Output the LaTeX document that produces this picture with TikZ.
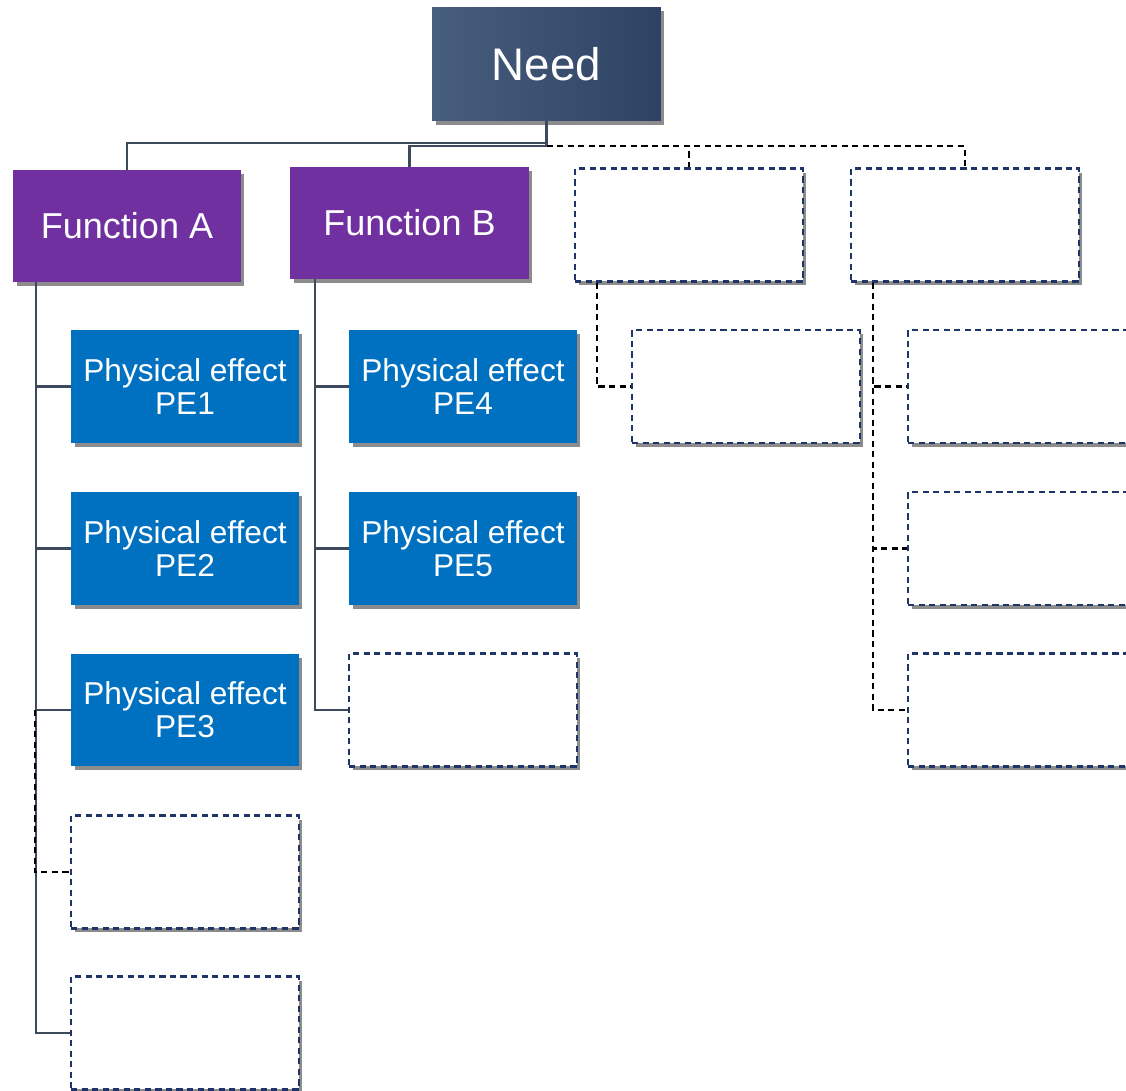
\documentclass[tikz,border=0pt]{standalone}
\usepackage{fontspec}
\setmainfont{Liberation Sans}
\usetikzlibrary{positioning, shadows}

\definecolor{needdark}{HTML}{2F4263}
\definecolor{needlight}{HTML}{485E7E}
\definecolor{funcpurple}{HTML}{7030A0}
\definecolor{effectblue}{HTML}{0070C0}
\definecolor{linegray}{HTML}{3D4A5C}
\definecolor{boxnavy}{HTML}{1F3468}

\begin{document}
\begin{tikzpicture}[
    x=0.02cm, y=-0.02cm,
    % Styles
    shade/.style={drop shadow={shadow xshift=0.07cm, shadow yshift=-0.08cm, fill=black, opacity=0.45}},
    needbox/.style={shade, left color=needlight, right color=needdark, draw=none, text=white, minimum width=4.58cm, minimum height=2.28cm, font=\fontsize{26}{28}\selectfont},
    funcbox/.style={shade, fill=funcpurple, text=white, minimum width=4.56cm, minimum height=2.24cm, font=\fontsize{20.5}{23}\selectfont},
    effectbox/.style={shade, fill=effectblue, text=white, minimum width=4.56cm, minimum height=2.26cm, align=center, font=\fontsize{18}{19}\selectfont},
    emptybox/.style={shade, fill=white, draw=boxnavy, dash pattern=on 3.5pt off 2.5pt, line width=1.2pt, minimum width=4.56cm, minimum height=2.26cm},
    conn/.style={draw=linegray, line width=1.2pt},
    dconn/.style={draw=black, dash pattern=on 3.5pt off 2.5pt, line width=1.2pt},
]
\useasboundingbox (0,0) rectangle (1126,1091);
\clip (0,0) rectangle (1126,1091);

% Top level
\node[needbox] (need) at (546.5, 64) {Need};

% Functions
\node[funcbox] (funA) at (127, 226) {Function A};
\node[funcbox, minimum width=4.78cm] (funB) at (409.5, 223) {Function B};
\node[emptybox] (funC) at (689, 225) {};
\node[emptybox] (funD) at (965, 225) {};

% Physical effects of function A
\node[effectbox] (pe1) at (185, 386.5) {Physical effect\\PE1};
\node[effectbox] (pe2) at (185, 548.5) {Physical effect\\PE2};
\node[effectbox] (pe3) at (185, 710) {Physical effect\\PE3};
\node[emptybox] (a4) at (185, 872) {};
\node[emptybox] (a5) at (185, 1033) {};

% Physical effects of function B
\node[effectbox] (pe4) at (463, 386.5) {Physical effect\\PE4};
\node[effectbox] (pe5) at (463, 548.5) {Physical effect\\PE5};
\node[emptybox] (b3) at (463, 710) {};

% Open slots
\node[emptybox] (c1) at (746, 386.5) {};
\node[emptybox] (d1) at (1022, 386.5) {};
\node[emptybox] (d2) at (1022, 548.5) {};
\node[emptybox] (d3) at (1022, 710) {};

% Need to functions
\draw[conn] (need.south) -- ++(0,-0.44cm) -| (funA.north);
\draw[conn] (need.south) -- ++(0,-0.5cm) -| (funB.north);
\draw[dconn] ([yshift=-0.5cm]need.south) -| (funC.north);
\draw[dconn] ([yshift=-0.5cm]need.south) -| (funD.north);

% Function A tree
\foreach \e in {pe1, pe2, pe3, a5}
    \draw[conn] ([xshift=0.46cm]funA.south west) |- (\e.west);
\draw[dconn] ([xshift=0.44cm]funA.south west |- pe3.west) |- (a4.west);

% Function B tree
\foreach \e in {pe4, pe5, b3}
    \draw[conn] ([xshift=0.5cm]funB.south west) |- (\e.west);

% Open trees
\draw[dconn] ([xshift=0.46cm]funC.south west) |- (c1.west);
\foreach \e in {d1, d2, d3}
    \draw[dconn] ([xshift=0.46cm]funD.south west) |- (\e.west);

\end{tikzpicture}
\end{document}
